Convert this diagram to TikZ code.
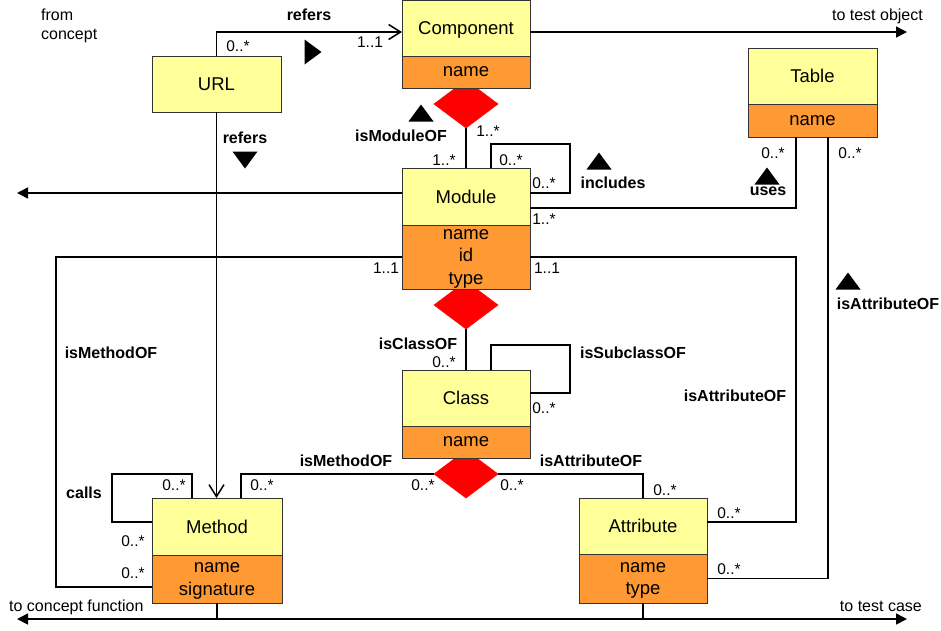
\documentclass[tikz,border=0pt]{standalone}
\usepackage{fontspec}
\setmainfont{Liberation Sans}
\usetikzlibrary{arrows.meta,shapes.geometric}
\definecolor{clsyellow}{HTML}{FFFF99}
\definecolor{clsorange}{HTML}{FF9933}
\definecolor{assocred}{HTML}{FF0000}
\definecolor{boxline}{HTML}{333333}
\tikzset{
 hdr/.style={draw=boxline, line width=1pt, fill=clsyellow, minimum width=128pt, inner sep=0pt, outer sep=0pt, text depth=-1.5pt, font=\fontsize{18.5}{22}\selectfont, align=center},
 attrs/.style={draw=boxline, line width=1pt, fill=clsorange, minimum width=128pt, inner sep=0pt, outer sep=0pt, text depth=-3.5pt, font=\fontsize{18.5}{22.5}\selectfont, align=center},
 assoc/.style={diamond, draw=assocred, line width=0.5pt, fill=assocred, minimum width=64pt, minimum height=48pt, inner sep=0pt, outer sep=0pt},
 conn/.style={line width=1.5pt, line join=miter},
 rel/.style={font=\bfseries\fontsize{16}{18}\selectfont, inner sep=0pt, text depth=0pt},
 mult/.style={font=\fontsize{15.5}{18}\selectfont, inner sep=0pt, text depth=0pt},
 note/.style={font=\fontsize{16}{19}\selectfont, inner sep=0pt, text depth=0pt},
 fillarr/.style={-{Triangle[length=11pt,width=11pt]}},
 bothfillarr/.style={{Triangle[length=11pt,width=11pt]}-{Triangle[length=11pt,width=11pt]}},
 openarr/.style={-{Straight Barb[length=12pt,width=15pt,line width=1.5pt]}},
 uptri/.pic={\fill (-12.5,8.5) -- (12.5,8.5) -- (0,-8.5) -- cycle;},
 downtri/.pic={\fill (-12.5,-8.5) -- (12.5,-8.5) -- (0,8.5) -- cycle;},
 righttri/.pic={\fill (-8.5,-12.5) -- (-8.5,12.5) -- (8.5,0) -- cycle;},
}
\begin{document}
\begin{tikzpicture}[x=1pt,y=-1pt]
\useasboundingbox (0,0) rectangle (941,630);
% diamonds (behind the boxes)
\node[assoc] (d1) at (466,104) {};
\node[assoc] (d2) at (466,305) {};
\node[assoc] (d3) at (466,474) {};
% classes
\node[hdr, minimum height=56pt] (comp) at (466,28) {Component};
\node[attrs, minimum height=32pt, anchor=north] (compA) at (comp.south) {name};
\node[hdr, minimum height=56pt, minimum width=129pt] (url) at (216.5,84) {URL};
\node[hdr, minimum height=56pt, minimum width=129pt] (table) at (812.5,76) {Table};
\node[attrs, minimum height=33pt, minimum width=129pt, anchor=north] (tableA) at (table.south) {name};
\node[hdr, minimum height=57pt] (mod) at (466,196.5) {Module};
\node[attrs, minimum height=64pt, anchor=north] (modA) at (mod.south) {name\\id\\type};
\node[hdr, minimum height=56pt] (cls) at (466,398) {Class};
\node[attrs, minimum height=32pt, anchor=north] (clsA) at (cls.south) {name};
\node[hdr, minimum height=57pt, minimum width=130pt] (meth) at (217,526.5) {Method};
\node[attrs, minimum height=48pt, minimum width=130pt, anchor=north] (methA) at (meth.south) {name\\signature};
\node[hdr, minimum height=56pt] (attr) at (643,526) {Attribute};
\node[attrs, minimum height=49pt, anchor=north] (attrA) at (attr.south) {name\\type};
% free ends
\coordinate (toobj) at (907,32);
\coordinate (tocm) at (17,193);
\coordinate (botl) at (17,619);
\coordinate (botr) at (907,619);
% connectors
\draw[conn, openarr] (url.north) |- (comp.west |- 0,32);
\draw[conn, openarr] (url.south) -- (url.south |- meth.north);
\draw[conn, fillarr] (comp.east |- 0,32) -- (toobj);
\draw[conn] (d1.south) -- (mod.north);
\draw[conn] (mod.north -| 491,0) -- ++(0,-24) -| (570,193) -- (mod.east |- 0,193);
\draw[conn] (mod.east |- 0,208) -| (tableA.south -| 796,0);
\draw[conn, fillarr] (mod.west |- 0,193) -- (tocm);
\draw[conn] (modA.west) -| (56,587) -- (methA.west |- 0,587);
\draw[conn] (modA.east) -| (796,522) -- (attr.east |- 0,522);
\draw[conn] (tableA.south -| 828,0) |- (attrA.east);
\draw[conn] (d2.south) -- (cls.north);
\draw[conn] (cls.north -| 491,0) -- ++(0,-25) -| (570,393) -- (cls.east |- 0,393);
\draw[conn] (d3.west) -| (meth.north -| 241,0);
\draw[conn] (d3.east) -| (attr.north);
\draw[conn] (meth.north -| 192,0) -- ++(0,-24) -| (112,522) -- (meth.west |- 0,522);
\draw[conn, bothfillarr] (botl) -- (botr);
\draw[conn] (methA.south) -- (methA.south |- botl);
\draw[conn] (attrA.south) -- (attrA.south |- botl);
% notes
\node[note, anchor=west, align=left] (fromc) at (41,24) {from\\concept};
\node[note, anchor=east] (toobjl) at (923,15) {to test object};
\node[note, anchor=west] (tocfl) at (9,606) {to concept function};
\node[note, anchor=east] (totcl) at (922,606) {to test case};
% relation names
\node[rel] (r1) at (309,15) {refers};
\node[rel] (r2) at (245,138) {refers};
\node[rel] (r3) at (401,136) {isModuleOF};
\node[rel] (r4) at (613,183) {includes};
\node[rel] (r5) at (768,191) {uses};
\node[rel] (r6) at (888,304) {isAttributeOF};
\node[rel] (r7) at (111,353) {isMethodOF};
\node[rel] (r8) at (418,344) {isClassOF};
\node[rel] (r9) at (633,353) {isSubclassOF};
\node[rel] (r10) at (735,396) {isAttributeOF};
\node[rel] (r11) at (346,461) {isMethodOF};
\node[rel] (r12) at (591,461) {isAttributeOF};
\node[rel] (r13) at (84,493) {calls};
% direction triangles
\pic at (421,113) {uptri};
\pic at (313,52) {righttri};
\pic at (245,160) {downtri};
\pic at (599,161) {uptri};
\pic at (767,176) {uptri};
\pic at (848,281) {uptri};
% multiplicities
\node[mult] (m1) at (238,46) {0..*};
\node[mult] (m2) at (370,42) {1..1};
\node[mult] (m3) at (488,131) {1..*};
\node[mult] (m4) at (444,160) {1..*};
\node[mult] (m5) at (511,160) {0..*};
\node[mult] (m6) at (544,183) {0..*};
\node[mult] (m7) at (544,219) {1..*};
\node[mult] (m8) at (386,268) {1..1};
\node[mult] (m9) at (547,268) {1..1};
\node[mult] (m10) at (773,153) {0..*};
\node[mult] (m11) at (850,153) {0..*};
\node[mult] (m12) at (444,362) {0..*};
\node[mult] (m13) at (544,408) {0..*};
\node[mult] (m14) at (423,485) {0..*};
\node[mult] (m15) at (512,485) {0..*};
\node[mult] (m16) at (262,485) {0..*};
\node[mult] (m17) at (174,485) {0..*};
\node[mult] (m18) at (133,541) {0..*};
\node[mult] (m19) at (133,573) {0..*};
\node[mult] (m20) at (665,490) {0..*};
\node[mult] (m21) at (729,513) {0..*};
\node[mult] (m22) at (729,569) {0..*};
\end{tikzpicture}
\end{document}
